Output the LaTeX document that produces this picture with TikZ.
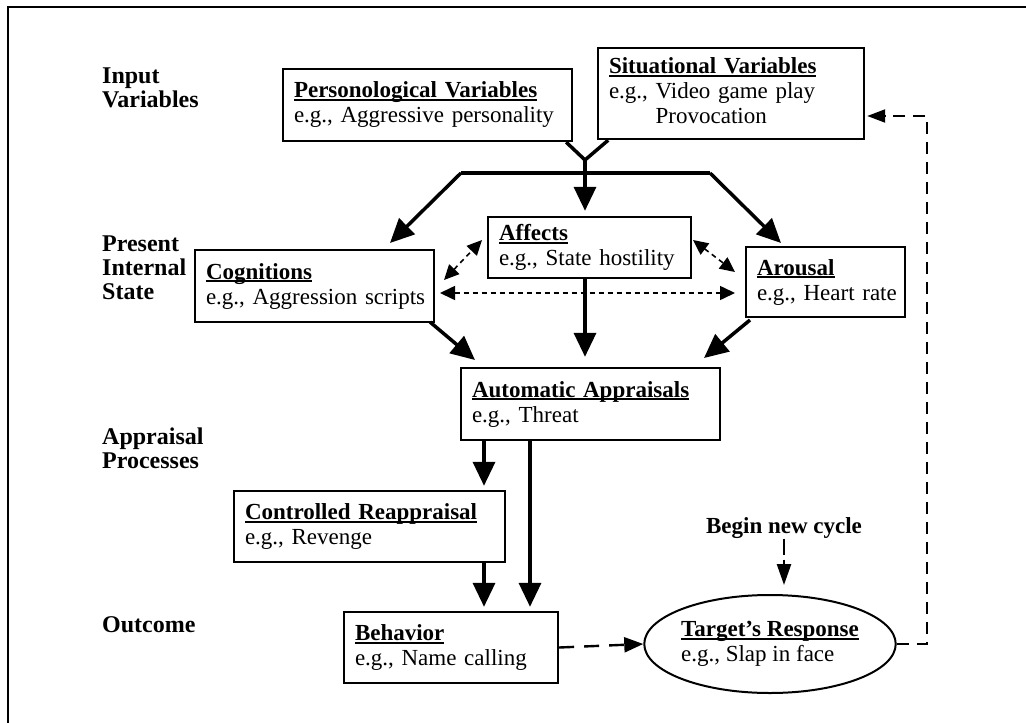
\documentclass[tikz,border=0pt]{standalone}
\usepackage{fontspec}
\setmainfont{Liberation Serif}
\usetikzlibrary{arrows.meta,shapes.geometric,calc}
\newcommand\uttl[1]{\setbox0\hbox{\bfseries #1}\rlap{\rule[-3pt]{\wd0}{1.6pt}}\box0}
\begin{document}
\begin{tikzpicture}[x=1pt,y=-1pt,
  box/.style={draw,line width=2.4pt,rectangle,align=left,inner xsep=11pt,inner ysep=0pt,
    font=\fontsize{23}{25}\selectfont,anchor=center},
  lbl/.style={align=left,inner sep=0pt,anchor=west,font=\fontsize{24}{24}\selectfont\bfseries},
  fat/.style={line width=3.5pt},
  fatarrow/.style={line width=3.5pt,-{Triangle[length=24pt,width=22pt]}},
  dbl/.style={line width=1.6pt,dash pattern=on 5pt off 4pt,
    {Triangle[length=15pt,width=14pt]}-{Triangle[length=15pt,width=14pt]}},
  fb/.style={line width=2pt,dash pattern=on 12pt off 8pt,-{Triangle[length=18pt,width=13pt]}},
  bh/.style={line width=2.4pt,dash pattern=on 15pt off 10pt,-{Triangle[length=19pt,width=15pt]}},
  bg/.style={line width=2.4pt,dash pattern=on 16pt off 5pt,-{Triangle[length=21pt,width=14pt]}},
]
\useasboundingbox (0,0) rectangle (1026,723);
\draw[line width=2pt] (1026,7) -- (8,7) -- (8,723);

% side labels
\node[lbl] (l1) at (102,88) {Input\\Variables};
\node[lbl] (l2) at (102,268) {Present\\Internal\\State};
\node[lbl] (l3) at (102,448) {Appraisal\\Processes};
\node[lbl] (l4) at (102,625) {Outcome};

% boxes
\node[box,text width=267pt,minimum height=72pt] (pers) at (427.5,105)
  {\uttl{Personological Variables}\\\mbox{e.g., Aggressive personality}};
\node[box,text width=244pt,minimum height=91pt] (sit) at (731,93.5)
  {\uttl{Situational Variables}\\\mbox{e.g., Video game play}\\\phantom{e.g., }Provocation};
\node[box,text width=181pt,minimum height=61pt] (aff) at (589.5,247.5)
  {\uttl{Affects}\\\mbox{e.g., State hostility}};
\node[box,text width=217pt,minimum height=72pt] (cog) at (314.5,286)
  {\uttl{Cognitions}\\\mbox{e.g., Aggression scripts}};
\node[box,text width=137pt,minimum height=70pt] (aro) at (825.5,282)
  {\uttl{Arousal}\\\mbox{e.g., Heart rate}};
\node[box,text width=237pt,minimum height=72pt] (aut) at (590.5,404)
  {\uttl{Automatic Appraisals}\\\mbox{e.g., Threat}};
\node[box,text width=249pt,minimum height=71pt] (ctl) at (369.5,526.5)
  {\uttl{Controlled Reappraisal}\\\mbox{e.g., Revenge}};
\node[box,text width=192pt,minimum height=71pt] (beh) at (451,647.5)
  {\uttl{Behavior}\\\mbox{e.g., Name calling}};
\node[draw,ellipse,line width=2pt,minimum width=220pt,minimum height=98pt,inner sep=0pt,
  align=left,font=\fontsize{23}{25}\selectfont] (tgt) at (770,644)
  {\uttl{Target's Response}\\e.g., Slap in face};
\node[lbl,anchor=center,font=\fontsize{23}{24}\selectfont\bfseries] (begin) at (784,528) {Begin new cycle};

% input junction
\coordinate (J) at (585,160);
\coordinate (BL) at (461,173);
\coordinate (BR) at (710,173);
\draw[fat,line join=miter] ([xshift=-7pt]pers.south east) -- (J) -- ([xshift=-257pt]sit.south east);
\draw[fat,line join=miter] (J) -- (J |- BL);
\draw[fat,line join=miter] (BL) -- (BR);
\draw[fatarrow] (BL) -- (390,243);
\draw[fatarrow] (BR) -- (781,243);
\draw[fatarrow] (J) -- ([yshift=5pt]J |- aff.north);

% internal state interactions
\draw[dbl] (444,280) -- (482,240);
\draw[dbl] (693,240) -- (735,272);
\draw[dbl] (440,293) -- (735,293);

% to automatic appraisals
\draw[fatarrow] (430,322) -- (475,360);
\draw[fatarrow] (J |- aff.south) -- ([yshift=10pt]J |- aut.north);
\draw[fatarrow] (750,320) -- (704,358);

% appraisal to outcome
\coordinate (xa) at (484,0);
\coordinate (xb) at (530,0);
\draw[fatarrow] (xa |- aut.south) -- ([yshift=4pt]xa |- ctl.north);
\draw[fatarrow] (xa |- ctl.south) -- ([yshift=4pt]xa |- beh.north);
\draw[fatarrow] (xb |- aut.south) -- ([yshift=4pt]xb |- beh.north);

% outcome
\draw[bh] (beh.east) -- (tgt.west);
\draw[bg] (begin.south) -- (784,585);
\coordinate (fbc) at (927,116);
\draw[fb] (tgt.east) -| (fbc) -- ([xshift=2pt]sit.east |- fbc);
\end{tikzpicture}
\end{document}
